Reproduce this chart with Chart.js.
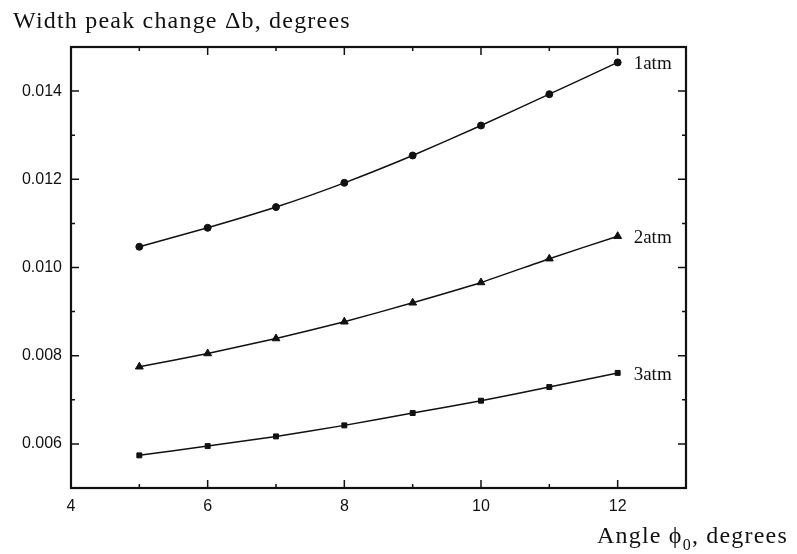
<!DOCTYPE html>
<html>
<head>
<meta charset="utf-8">
<script src="https://cdn.jsdelivr.net/npm/chart.js@4"></script>
<style>
  html, body { margin: 0; padding: 0; background: #fff; }
  #wrap { width: 797px; height: 554px; }
</style>
</head>
<body>
<div id="wrap"><canvas id="peakChart" width="797" height="554"></canvas></div>
<script>
// Angle phi0 (degrees) and width peak change for each pressure.
var angles = [5, 6, 7, 8, 9, 10, 11, 12];
var width1atm = [0.01047, 0.0109, 0.01137, 0.01192, 0.01254, 0.01322, 0.01393, 0.01465];
var width2atm = [0.00775, 0.00805, 0.00839, 0.00877, 0.0092, 0.00966, 0.0102, 0.01071];
var width3atm = [0.00574, 0.00595, 0.00617, 0.00642, 0.0067, 0.00698, 0.00729, 0.00761];
var seriesLabels = ["1atm", "2atm", "3atm"];
var xLabelled = [4, 6, 8, 10, 12];
var yLabelled = [0.006, 0.008, 0.010, 0.012, 0.014];

function toPoints(values) {
    return angles.map(function (a, i) { return { x: a, y: values[i] }; });
}

function makeSet(label, values, style, radius) {
    return {
        label: label,
        data: toPoints(values),
        borderColor: "#111",
        backgroundColor: "#111",
        borderWidth: 1.5,
        pointStyle: style,
        pointRadius: radius,
        pointBorderWidth: 1,
        tension: 0.15,
        fill: false
    };
}

function isYLabelled(v) {
    return yLabelled.some(function (l) { return Math.abs(l - v) < 1e-9; });
}

// Inward tick marks, the frame and all the free text.
var framePlugin = {
    id: "frame",
    afterDatasetsDraw: function (chart) {
        var ctx = chart.ctx;
        var a = chart.chartArea;
        var xs = chart.scales.x;
        var ys = chart.scales.y;
        ctx.save();
        ctx.strokeStyle = "#111";
        ctx.lineWidth = 1.5;
        xs.ticks.forEach(function (t) {
            var px = xs.getPixelForValue(t.value);
            var len = xLabelled.indexOf(t.value) >= 0 ? 8 : 4;
            ctx.beginPath();
            ctx.moveTo(px, a.bottom); ctx.lineTo(px, a.bottom - len);
            ctx.moveTo(px, a.top); ctx.lineTo(px, a.top + len);
            ctx.stroke();
        });
        ys.ticks.forEach(function (t) {
            var py = ys.getPixelForValue(t.value);
            var len = isYLabelled(t.value) ? 8 : 4;
            ctx.beginPath();
            ctx.moveTo(a.left, py); ctx.lineTo(a.left + len, py);
            ctx.moveTo(a.right, py); ctx.lineTo(a.right - len, py);
            ctx.stroke();
        });
        ctx.lineWidth = 2.2;
        ctx.strokeRect(a.left, a.top, a.right - a.left, a.bottom - a.top);

        // series labels next to the last point
        ctx.fillStyle = "#111";
        ctx.font = "19px 'Liberation Serif', serif";
        ctx.textBaseline = "middle";
        ctx.textAlign = "left";
        chart.data.datasets.forEach(function (ds, i) {
            var last = chart.getDatasetMeta(i).data[ds.data.length - 1];
            ctx.fillText(seriesLabels[i], last.x + 16, last.y + 2);
        });

        // axis titles (the scan is set with loose letter spacing)
        ctx.textBaseline = "alphabetic";
        ctx.letterSpacing = "1.2px";
        ctx.font = "24px 'Liberation Serif', serif";
        ctx.fillText("Width peak change \u0394b, degrees", 13, 28);
        var xt = "Angle \u03d5";
        var x0 = 597;
        ctx.fillText(xt, x0, 543);
        var w = ctx.measureText(xt).width;
        ctx.font = "16px 'Liberation Serif', serif";
        ctx.fillText("0", x0 + w, 550);
        var w2 = ctx.measureText("0").width;
        ctx.font = "24px 'Liberation Serif', serif";
        ctx.fillText(", degrees", x0 + w + w2, 543);
        ctx.restore();
    }
};

new Chart(document.getElementById("peakChart"), {
    type: "line",
    data: {
        datasets: [
            makeSet(seriesLabels[0], width1atm, "circle", 3.5),
            makeSet(seriesLabels[1], width2atm, "triangle", 4.5),
            makeSet(seriesLabels[2], width3atm, "rect", 3.5)
        ]
    },
    plugins: [framePlugin],
    options: {
        responsive: false,
        animation: false,
        layout: { padding: { left: 0, top: 47, right: 111, bottom: 0 } },
        plugins: { legend: { display: false }, tooltip: { enabled: false } },
        scales: {
            x: {
                type: "linear",
                min: 4,
                max: 13,
                grid: { display: false, drawTicks: false },
                border: { display: false },
                afterFit: function (s) { s.height = 66; },
                ticks: {
                    stepSize: 1,
                    autoSkip: false,
                    maxRotation: 0,
                    padding: 9,
                    color: "#111",
                    font: { family: "'Liberation Sans', Arial, sans-serif", size: 16 },
                    callback: function (v) {
                        return xLabelled.indexOf(v) >= 0 ? String(v) : "";
                    }
                }
            },
            y: {
                min: 0.005,
                max: 0.015,
                grid: { display: false, drawTicks: false },
                border: { display: false },
                afterFit: function (s) { s.width = 71; },
                ticks: {
                    stepSize: 0.001,
                    autoSkip: false,
                    padding: 9,
                    color: "#111",
                    font: { family: "'Liberation Sans', Arial, sans-serif", size: 16 },
                    callback: function (v) {
                        return isYLabelled(v) ? v.toFixed(3) : "";
                    }
                }
            }
        }
    }
});
</script>
</body>
</html>
